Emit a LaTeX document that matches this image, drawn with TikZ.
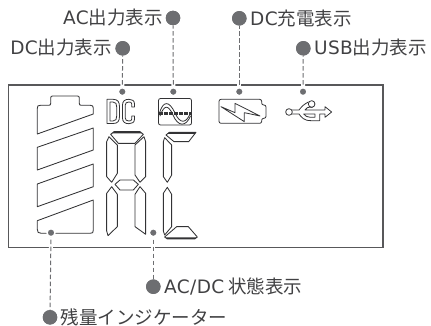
\documentclass[tikz,border=0pt]{standalone}
\usepackage{fontspec}
\setmainfont{Noto Sans CJK JP}
\newfontface\lat[LetterSpace=2]{DejaVu Sans}
\tikzset{
  bigdot/.style={circle,fill=dotgray,draw=none,minimum size=14.5pt,inner sep=0pt},
  smalldot/.style={circle,fill=dotgray,draw=white,line width=1.5pt,minimum size=8pt,inner sep=0pt},
  lbl/.style={text=txt,inner sep=0pt,font=\fontsize{18.5pt}{20pt}\selectfont},
  conn/.style={draw=dotgray,line width=1pt,dash pattern=on 4.5pt off 2.5pt},
  halo/.style={draw=white,line width=4pt},
  seg/.style={draw=lcd,line width=.85pt,line join=round,fill=white},
  icon/.style={draw=lcd,line width=.8pt,line join=round,line cap=round},
  frameline/.style={draw=framec,line width=1.1pt}
}
\definecolor{dotgray}{HTML}{6D6E71}
\definecolor{txt}{HTML}{414143}
\definecolor{lcd}{HTML}{333335}
\definecolor{framec}{HTML}{58585A}
\begin{document}
\begin{tikzpicture}[x=1pt,y=-1pt]
\useasboundingbox (0,0) rectangle (431,326);
% frame
\draw[frameline] (8.5,85) rectangle (383,247.8);
% battery
\draw[seg] (37.3,134) -- (37.3,108.3) .. controls (37.3,106) and (38,105.3) .. (40.3,105.3) -- (48.7,105.3) .. controls (50.2,105.3) and (50.7,104.8) .. (50.7,103.3) -- (50.7,98) .. controls (50.7,96.5) and (51.2,96) .. (52.7,96) -- (77.3,96) .. controls (78.8,96) and (79.3,96.5) .. (79.3,98) -- (79.3,103.3) .. controls (79.3,104.8) and (79.8,105.3) .. (81.3,105.3) -- (90.3,105.3) .. controls (92.6,105.3) and (93.3,106) .. (93.3,108.3) -- (93.3,114) -- cycle;
\draw[seg] (37.3,147.3) -- (93.3,128) -- (93.3,150) -- (37.3,170) -- cycle;
\draw[seg] (37.3,184) -- (93.3,164) -- (93.3,186.7) -- (37.3,206.7) -- cycle;
\draw[seg] (37.3,220.7) -- (93.3,200) -- (93.3,230.3) .. controls (93.3,232.6) and (92.6,233.3) .. (90.3,233.3) -- (41.3,233.3) .. controls (38.3,233.3) and (37.3,232.3) .. (37.3,229.3) -- cycle;
% dots
\node[bigdot] (acB) at (173,18) {};
\node[bigdot] (dcB) at (122.7,48.3) {};
\node[bigdot] (chB) at (239.3,18.3) {};
\node[bigdot] (usbB) at (303.3,48.3) {};
\node[bigdot] (batB) at (50,317.3) {};
\node[bigdot] (stB) at (153.3,286.7) {};
% connectors
\coordinate (acT) at (173.3,91.7);
\coordinate (dcT) at (122.3,91.7);
\coordinate (chT) at (239.3,91.7);
\coordinate (usbT) at (303,91.7);
\coordinate (batT) at (51,232.7);
\coordinate (stT) at (153.3,232.7);
\foreach \a/\b in {acB/acT,dcB/dcT,chB/chT,usbB/usbT,batB/batT,stB/stT}{
  \draw[halo] (\a) -- (\b);
  \draw[conn] (\b) -- (\a);
}
\node[smalldot] (acS) at (acT) {};
\node[smalldot] (dcS) at (dcT) {};
\node[smalldot] (chS) at (chT) {};
\node[smalldot] (usbS) at (usbT) {};
\node[smalldot] (batS) at (batT) {};
\node[smalldot] (stS) at (stT) {};
\node[bigdot] at (acB) {};
\node[bigdot] at (dcB) {};
\node[bigdot] at (chB) {};
\node[bigdot] at (usbB) {};
\node[bigdot] at (batB) {};
\node[bigdot] at (stB) {};
% labels
\node[lbl,anchor=east] (acL) at (163,18) {{\lat AC}出力表示};
\node[lbl,anchor=east] (dcL) at (112,48) {{\lat DC}出力表示};
\node[lbl,anchor=west] (chL) at (250,18) {{\lat DC}充電表示};
\node[lbl,anchor=west] (usbL) at (314,48) {{\lat USB}出力表示};
\node[lbl,anchor=west] (stL) at (164,287) {{\lat AC/DC} 状態表示};
\node[lbl,anchor=west] (batL) at (60.5,317) {残量インジケーター};
% digit 1
\begin{scope}[shift={(90,95)},x=.3333pt,y=-.3333pt]
\draw[seg] (62,118) -- (72,110) -- (150,110) -- (160,118) -- (135,145) -- (85,145) -- cycle;
\fill[lcd] (66,115) -- (72,110) -- (150,110) -- (156,115) -- cycle;
\draw[seg] (57,125) -- (82,150) -- (82,235) -- (65,262) -- (50,245) -- (50,140) -- cycle;
\draw[seg] (162,125) -- (167,140) -- (167,245) -- (150,262) -- (135,240) -- (135,150) -- cycle;
\draw[seg] (75,268) -- (90,255) -- (130,255) -- (145,268) -- (130,285) -- (90,285) -- cycle;
\draw[seg] (65,275) -- (82,298) -- (82,395) -- (54,422) -- (50,408) -- (50,295) -- cycle;
\draw[seg] (150,275) -- (167,295) -- (167,418) -- (135,395) -- (135,298) -- cycle;
% digit 2
\draw[seg] (228,120) -- (238,112) -- (318,112) -- (296,140) -- (252,140) -- cycle;
\fill[lcd] (232,117) -- (238,112) -- (318,112) -- (314,117) -- cycle;
\draw[seg] (224,128) -- (245,150) -- (245,240) -- (232,262) -- (220,245) -- (220,140) -- cycle;
\draw[seg] (232,277) -- (245,298) -- (245,395) -- (224,420) -- (220,408) -- (220,295) -- cycle;
\draw[seg] (224,426) -- (260,395) -- (295,395) -- (322,426) -- (314,432) -- (232,432) -- cycle;
\fill[lcd] (228,427) -- (322,427) -- (314,432) -- (232,432) -- cycle;
\end{scope}
% DC glyph
\draw[icon] (107,99.3) -- (113,99.3) .. controls (118,99.3) and (119.5,102) .. (119.5,107) -- (119.5,116) .. controls (119.5,121) and (118,123.5) .. (113,123.5) -- (107,123.5) -- cycle;
\draw[icon] (110,102) -- (113,102) .. controls (116,102) and (116.7,104) .. (116.7,107) -- (116.7,116) .. controls (116.7,119) and (116,121) .. (113,121) -- (110,121) -- cycle;
\draw[icon] (134.5,107) -- (134.5,104) .. controls (134.5,100.5) and (132,99.3) .. (129,99.3) .. controls (125,99.3) and (122.5,101) .. (122.5,105) -- (122.5,118) .. controls (122.5,122) and (125,123.7) .. (129,123.7) .. controls (132,123.7) and (134.5,122.5) .. (134.5,119) -- (134.5,116) -- (131.8,116) -- (131.8,119) .. controls (131.8,120.5) and (130.5,121) .. (129,121) .. controls (126.5,121) and (125.3,120) .. (125.3,118) -- (125.3,105) .. controls (125.3,103) and (126.5,102) .. (129,102) .. controls (130.5,102) and (131.8,102.5) .. (131.8,104) -- (131.8,107) -- cycle;
% AC icon
\draw[icon,rounded corners=2pt] (158.5,98.5) rectangle (191.5,125);
\draw[icon] (159.5,113) .. controls (163,101) and (169,100) .. (175,113) .. controls (180,124) and (186,124) .. (190.5,113);
\draw[icon] (160,116) .. controls (164,105) and (168,104) .. (173,115) .. controls (178,127) and (186,127) .. (190.5,116);
\draw[draw=lcd,line width=2.2pt,dash pattern=on 3.5pt off 1.5pt] (159,113.5) -- (191,113.5);
% charge icon
\begin{scope}[shift={(205,90)},x=.3333pt,y=-.3333pt]
\draw[icon,rounded corners=2pt] (42,28) -- (170,28) -- (170,45) -- (183,45) -- (183,85) -- (170,85) -- (170,100) -- (42,100) -- cycle;
\draw[icon] (48,50) -- (90,68) -- (90,40) -- (165,78) -- (118,68) -- (118,95) -- cycle;
% USB icon
\draw[icon] (252,66) circle[radius=10];
\draw[icon] (262,60) -- (282,60) .. controls (290,50) and (295,44) .. (310,36);
\draw[icon] (262,72) -- (282,72) .. controls (290,82) and (296,92) .. (318,92) -- (330,92) -- (344,92) -- (344,72) -- (360,72) -- (360,82) -- (380,66) -- (360,50) -- (360,60) -- (300,60) .. controls (302,54) and (310,50) .. (322,52);
\draw[icon] (320,42) circle[radius=10];
\draw[icon] (296,72) -- (330,72) -- (330,82) -- (316,82) .. controls (306,82) and (302,78) .. (296,72);
\end{scope}
\end{tikzpicture}
\end{document}
